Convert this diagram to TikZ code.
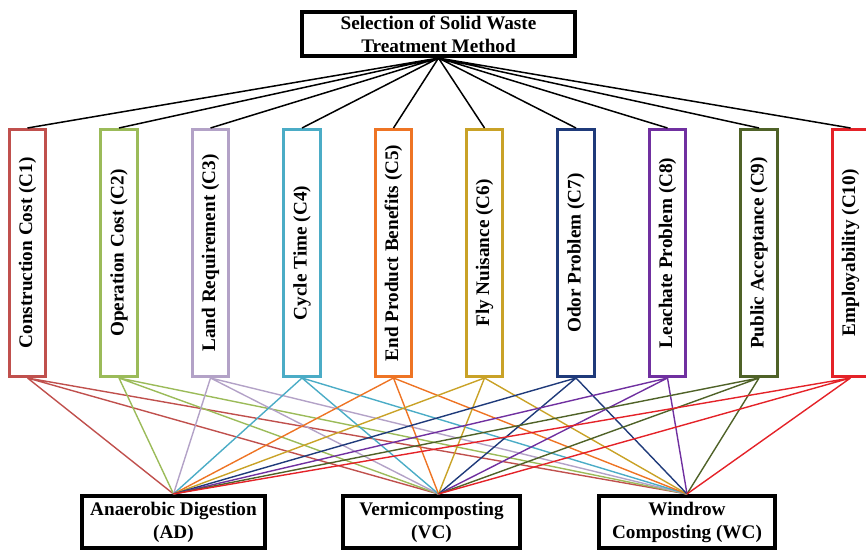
\documentclass[tikz,border=0pt]{standalone}
\usepackage{fontspec}
\setmainfont{Liberation Serif}
\definecolor{cone}{HTML}{C0504D}
\definecolor{ctwo}{HTML}{9BBB59}
\definecolor{cthree}{HTML}{B3A2C7}
\definecolor{cfour}{HTML}{4BACC6}
\definecolor{cfive}{HTML}{EE7424}
\definecolor{csix}{HTML}{C9A227}
\definecolor{cseven}{HTML}{1F3A7A}
\definecolor{ceight}{HTML}{7030A0}
\definecolor{cnine}{HTML}{4F6228}
\definecolor{cten}{HTML}{E42228}
\begin{document}
\begin{tikzpicture}[x=0.5pt,y=-0.5pt,
  font=\bfseries\fontsize{9.6}{11.5}\selectfont,
  goal/.style={draw,line width=1.8pt,align=center,inner sep=0pt,minimum width=136.75pt,minimum height=22.25pt},
  crit/.style={draw,line width=1.5pt,rotate=90,inner sep=0pt,minimum width=123.5pt,minimum height=18.25pt},
  alt/.style={draw,line width=1.8pt,align=center,inner sep=0pt,minimum height=26.25pt},
  link/.style={line width=0.7pt}]
\useasboundingbox (0,0) rectangle (866,550);
\node[goal] (goal) at (438.5,34) {Selection of Solid Waste\\Treatment Method};
\node[crit,cone] (c1) at (27.5,253) {\color{black}Construction Cost (C1)};
\node[crit,ctwo] (c2) at (119,253) {\color{black}Operation Cost (C2)};
\node[crit,cthree] (c3) at (210.5,253) {\color{black}Land Requirement (C3)};
\node[crit,cfour] (c4) at (302,253) {\color{black}Cycle Time (C4)};
\node[crit,cfive] (c5) at (393.5,253) {\color{black}End Product Benefits (C5)};
\node[crit,csix] (c6) at (484.5,253) {\color{black}Fly Nuisance (C6)};
\node[crit,cseven] (c7) at (576,253) {\color{black}Odor Problem (C7)};
\node[crit,ceight] (c8) at (667.5,253) {\color{black}Leachate Problem (C8)};
\node[crit,cnine] (c9) at (759,253) {\color{black}Public Acceptance (C9)};
\node[crit,cten] (c10) at (850.5,253) {\color{black}Employability (C10)};
\node[alt,minimum width=91.75pt] (ad) at (173.5,522) {Anaerobic Digestion\\(AD)};
\node[alt,minimum width=88.75pt] (vc) at (431.5,522) {Vermicomposting\\(VC)};
\node[alt,minimum width=88.25pt] (wc) at (687,522) {Windrow\\Composting (WC)};
% goal to criteria (rotated boxes: east is on top)
\draw[line width=0.75pt] (goal.south) -- (c1.east) (goal.south) -- (c2.east)
  (goal.south) -- (c3.east) (goal.south) -- (c4.east) (goal.south) -- (c5.east)
  (goal.south) -- (c6.east) (goal.south) -- (c7.east) (goal.south) -- (c8.east)
  (goal.south) -- (c9.east) (goal.south) -- (c10.east);
% criteria to alternatives
\draw[link,cone] (c1.west) -- (ad.north) (c1.west) -- ([xshift=3.5pt]vc.north) (c1.west) -- (wc.north);
\draw[link,ctwo] (c2.west) -- (ad.north) (c2.west) -- ([xshift=3.5pt]vc.north) (c2.west) -- (wc.north);
\draw[link,cthree] (c3.west) -- (ad.north) (c3.west) -- ([xshift=3.5pt]vc.north) (c3.west) -- (wc.north);
\draw[link,cfour] (c4.west) -- (ad.north) (c4.west) -- ([xshift=3.5pt]vc.north) (c4.west) -- (wc.north);
\draw[link,cfive] (c5.west) -- (ad.north) (c5.west) -- ([xshift=3.5pt]vc.north) (c5.west) -- (wc.north);
\draw[link,csix] (c6.west) -- (ad.north) (c6.west) -- ([xshift=3.5pt]vc.north) (c6.west) -- (wc.north);
\draw[link,cseven] (c7.west) -- (ad.north) (c7.west) -- ([xshift=3.5pt]vc.north) (c7.west) -- (wc.north);
\draw[link,ceight] (c8.west) -- (ad.north) (c8.west) -- ([xshift=3.5pt]vc.north) (c8.west) -- (wc.north);
\draw[link,cnine] (c9.west) -- (ad.north) (c9.west) -- ([xshift=3.5pt]vc.north) (c9.west) -- (wc.north);
\draw[link,cten] (c10.west) -- (ad.north) (c10.west) -- ([xshift=3.5pt]vc.north) (c10.west) -- (wc.north);
\end{tikzpicture}
\end{document}
